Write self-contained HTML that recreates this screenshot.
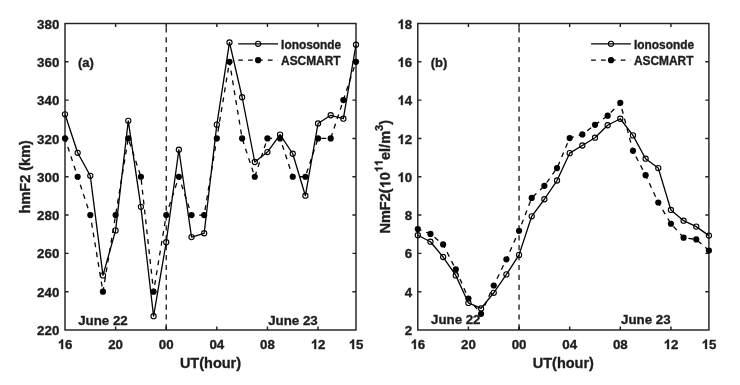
<!DOCTYPE html>
<html><head><meta charset="utf-8"><style>
html,body{margin:0;padding:0;background:#fff;}
body{width:740px;height:385px;overflow:hidden;}
svg{display:block;will-change:transform;}
text{font-family:"Liberation Sans",sans-serif;font-weight:bold;fill:#1e1e1e;stroke:#1e1e1e;stroke-width:0.35px;font-kerning:none;}
.h{fill:none;stroke:none;}
.g{fill:#1e1e1e;stroke:#1e1e1e;stroke-width:0.35px;vector-effect:non-scaling-stroke;}
</style></head><body>
<svg width="740" height="385" viewBox="0 0 740 385">
<rect width="740" height="385" fill="#fff"/>
<rect x="65" y="23.5" width="291" height="306.5" fill="none" stroke="#222" stroke-width="1.45"/>
<path d="M115.61 330v-3.6M115.61 23.5v3.6M166.22 330v-3.6M166.22 23.5v3.6M216.83 330v-3.6M216.83 23.5v3.6M267.43 330v-3.6M267.43 23.5v3.6M318.04 330v-3.6M318.04 23.5v3.6M65 291.69h3.6M356 291.69h-3.6M65 253.38h3.6M356 253.38h-3.6M65 215.06h3.6M356 215.06h-3.6M65 176.75h3.6M356 176.75h-3.6M65 138.44h3.6M356 138.44h-3.6M65 100.12h3.6M356 100.12h-3.6M65 61.81h3.6M356 61.81h-3.6" stroke="#222" stroke-width="1.45" fill="none"/>
<line x1="166.22" y1="23.5" x2="166.22" y2="330" stroke="#000" stroke-width="1.2" stroke-dasharray="5.2 4.7" stroke-dashoffset="6.1"/>
<polyline points="65,138.44 77.65,176.75 90.3,215.06 102.96,291.69 115.61,215.06 128.26,138.44 140.91,176.75 153.57,291.69 166.22,215.06 178.87,176.75 191.52,215.06 204.17,215.06 216.83,138.44 229.48,61.81 242.13,138.44 254.78,176.75 267.43,138.44 280.09,138.44 292.74,176.75 305.39,176.75 318.04,138.44 330.7,138.44 343.35,100.12 356,61.81" fill="none" stroke="#000" stroke-width="1.3" stroke-dasharray="4.9 5.05" stroke-dashoffset="1.05" stroke-linejoin="round"/>
<polyline points="65,114.3 77.65,152.8 90.3,175.79 102.96,275.4 115.61,230.39 128.26,120.81 140.91,206.83 153.57,316.21 166.22,242.26 178.87,149.74 191.52,237.09 204.17,233.26 216.83,124.65 229.48,42.46 242.13,97.25 254.78,162 267.43,152.04 280.09,134.61 292.74,153.76 305.39,195.71 318.04,123.5 330.7,115.26 343.35,118.71 356,44.76" fill="none" stroke="#000" stroke-width="1.3" stroke-linejoin="round"/>
<circle cx="65" cy="138.44" r="3.1" fill="#000"/>
<circle cx="77.65" cy="176.75" r="3.1" fill="#000"/>
<circle cx="90.3" cy="215.06" r="3.1" fill="#000"/>
<circle cx="102.96" cy="291.69" r="3.1" fill="#000"/>
<circle cx="115.61" cy="215.06" r="3.1" fill="#000"/>
<circle cx="128.26" cy="138.44" r="3.1" fill="#000"/>
<circle cx="140.91" cy="176.75" r="3.1" fill="#000"/>
<circle cx="153.57" cy="291.69" r="3.1" fill="#000"/>
<circle cx="166.22" cy="215.06" r="3.1" fill="#000"/>
<circle cx="178.87" cy="176.75" r="3.1" fill="#000"/>
<circle cx="191.52" cy="215.06" r="3.1" fill="#000"/>
<circle cx="204.17" cy="215.06" r="3.1" fill="#000"/>
<circle cx="216.83" cy="138.44" r="3.1" fill="#000"/>
<circle cx="229.48" cy="61.81" r="3.1" fill="#000"/>
<circle cx="242.13" cy="138.44" r="3.1" fill="#000"/>
<circle cx="254.78" cy="176.75" r="3.1" fill="#000"/>
<circle cx="267.43" cy="138.44" r="3.1" fill="#000"/>
<circle cx="280.09" cy="138.44" r="3.1" fill="#000"/>
<circle cx="292.74" cy="176.75" r="3.1" fill="#000"/>
<circle cx="305.39" cy="176.75" r="3.1" fill="#000"/>
<circle cx="318.04" cy="138.44" r="3.1" fill="#000"/>
<circle cx="330.7" cy="138.44" r="3.1" fill="#000"/>
<circle cx="343.35" cy="100.12" r="3.1" fill="#000"/>
<circle cx="356" cy="61.81" r="3.1" fill="#000"/>
<circle cx="65" cy="114.3" r="2.6" fill="none" stroke="#000" stroke-width="1.1"/>
<circle cx="77.65" cy="152.8" r="2.6" fill="none" stroke="#000" stroke-width="1.1"/>
<circle cx="90.3" cy="175.79" r="2.6" fill="none" stroke="#000" stroke-width="1.1"/>
<circle cx="102.96" cy="275.4" r="2.6" fill="none" stroke="#000" stroke-width="1.1"/>
<circle cx="115.61" cy="230.39" r="2.6" fill="none" stroke="#000" stroke-width="1.1"/>
<circle cx="128.26" cy="120.81" r="2.6" fill="none" stroke="#000" stroke-width="1.1"/>
<circle cx="140.91" cy="206.83" r="2.6" fill="none" stroke="#000" stroke-width="1.1"/>
<circle cx="153.57" cy="316.21" r="2.6" fill="none" stroke="#000" stroke-width="1.1"/>
<circle cx="166.22" cy="242.26" r="2.6" fill="none" stroke="#000" stroke-width="1.1"/>
<circle cx="178.87" cy="149.74" r="2.6" fill="none" stroke="#000" stroke-width="1.1"/>
<circle cx="191.52" cy="237.09" r="2.6" fill="none" stroke="#000" stroke-width="1.1"/>
<circle cx="204.17" cy="233.26" r="2.6" fill="none" stroke="#000" stroke-width="1.1"/>
<circle cx="216.83" cy="124.65" r="2.6" fill="none" stroke="#000" stroke-width="1.1"/>
<circle cx="229.48" cy="42.46" r="2.6" fill="none" stroke="#000" stroke-width="1.1"/>
<circle cx="242.13" cy="97.25" r="2.6" fill="none" stroke="#000" stroke-width="1.1"/>
<circle cx="254.78" cy="162" r="2.6" fill="none" stroke="#000" stroke-width="1.1"/>
<circle cx="267.43" cy="152.04" r="2.6" fill="none" stroke="#000" stroke-width="1.1"/>
<circle cx="280.09" cy="134.61" r="2.6" fill="none" stroke="#000" stroke-width="1.1"/>
<circle cx="292.74" cy="153.76" r="2.6" fill="none" stroke="#000" stroke-width="1.1"/>
<circle cx="305.39" cy="195.71" r="2.6" fill="none" stroke="#000" stroke-width="1.1"/>
<circle cx="318.04" cy="123.5" r="2.6" fill="none" stroke="#000" stroke-width="1.1"/>
<circle cx="330.7" cy="115.26" r="2.6" fill="none" stroke="#000" stroke-width="1.1"/>
<circle cx="343.35" cy="118.71" r="2.6" fill="none" stroke="#000" stroke-width="1.1"/>
<circle cx="356" cy="44.76" r="2.6" fill="none" stroke="#000" stroke-width="1.1"/>
<text x="65" y="348.9" text-anchor="middle" font-size="13.3"><tspan class="h">1</tspan>6</text><path class="g" transform="translate(57.6,349) scale(0.0133,-0.0133)" d="M410.6 0L273.9 0L273.9 515C235 478 180 447 97.2 411L97.2 535C140 549 185 572 222 603C258 634 280 672 292 716L410.6 716Z"/>
<text x="115.61" y="348.9" text-anchor="middle" font-size="13.3">20</text>
<text x="166.22" y="348.9" text-anchor="middle" font-size="13.3">00</text>
<text x="216.83" y="348.9" text-anchor="middle" font-size="13.3">04</text>
<text x="267.43" y="348.9" text-anchor="middle" font-size="13.3">08</text>
<text x="318.04" y="348.9" text-anchor="middle" font-size="13.3"><tspan class="h">1</tspan>2</text><path class="g" transform="translate(310.65,349) scale(0.0133,-0.0133)" d="M410.6 0L273.9 0L273.9 515C235 478 180 447 97.2 411L97.2 535C140 549 185 572 222 603C258 634 280 672 292 716L410.6 716Z"/>
<text x="356" y="348.9" text-anchor="middle" font-size="13.3"><tspan class="h">1</tspan>5</text><path class="g" transform="translate(348.6,349) scale(0.0133,-0.0133)" d="M410.6 0L273.9 0L273.9 515C235 478 180 447 97.2 411L97.2 535C140 549 185 572 222 603C258 634 280 672 292 716L410.6 716Z"/>
<text x="59.3" y="335.1" text-anchor="end" font-size="13.3">220</text>
<text x="59.3" y="296.79" text-anchor="end" font-size="13.3">240</text>
<text x="59.3" y="258.48" text-anchor="end" font-size="13.3">260</text>
<text x="59.3" y="220.16" text-anchor="end" font-size="13.3">280</text>
<text x="59.3" y="181.85" text-anchor="end" font-size="13.3">300</text>
<text x="59.3" y="143.54" text-anchor="end" font-size="13.3">320</text>
<text x="59.3" y="105.22" text-anchor="end" font-size="13.3">340</text>
<text x="59.3" y="66.91" text-anchor="end" font-size="13.3">360</text>
<text x="59.3" y="28.6" text-anchor="end" font-size="13.3">380</text>
<text x="210.5" y="368" text-anchor="middle" font-size="14.5">UT(hour)</text>
<text id="yla" transform="translate(29.9,176.75) rotate(-90)" text-anchor="middle" font-size="14.5">hmF2 (km)</text>
<text x="77.9" y="67" font-size="13">(a)</text>
<text x="78.2" y="325.3" font-size="13.3">June 22</text>
<text x="268.23" y="325.3" font-size="13.3">June 23</text>
<line x1="238.2" y1="43.8" x2="278" y2="43.8" stroke="#000" stroke-width="1.3"/>
<circle cx="258.1" cy="43.8" r="2.6" fill="none" stroke="#000" stroke-width="1.1"/>
<line x1="238.2" y1="60.2" x2="278" y2="60.2" stroke="#000" stroke-width="1.3" stroke-dasharray="4.7 5.2"/>
<circle cx="258.1" cy="60.2" r="3.1" fill="#000"/>
<text x="281.1" y="49.0" font-size="11.9">Ionosonde</text>
<text x="281.1" y="65" font-size="11.9">ASCMART</text>
<rect x="417.8" y="23.5" width="291.1" height="306.5" fill="none" stroke="#222" stroke-width="1.45"/>
<path d="M468.43 330v-3.6M468.43 23.5v3.6M519.05 330v-3.6M519.05 23.5v3.6M569.68 330v-3.6M569.68 23.5v3.6M620.3 330v-3.6M620.3 23.5v3.6M670.93 330v-3.6M670.93 23.5v3.6M417.8 291.69h3.6M708.9 291.69h-3.6M417.8 253.38h3.6M708.9 253.38h-3.6M417.8 215.06h3.6M708.9 215.06h-3.6M417.8 176.75h3.6M708.9 176.75h-3.6M417.8 138.44h3.6M708.9 138.44h-3.6M417.8 100.12h3.6M708.9 100.12h-3.6M417.8 61.81h3.6M708.9 61.81h-3.6" stroke="#222" stroke-width="1.45" fill="none"/>
<line x1="519.05" y1="23.5" x2="519.05" y2="330" stroke="#000" stroke-width="1.2" stroke-dasharray="5.2 4.7" stroke-dashoffset="6.1"/>
<polyline points="417.8,229.09 430.46,233.88 443.11,244.39 455.77,269.45 468.43,298.52 481.08,313.82 493.74,285.51 506.4,259.31 519.05,230.81 531.71,197.92 544.37,185.87 557.02,168.09 569.68,138.06 582.33,134.43 594.99,124.86 607.65,115.68 620.3,102.87 632.96,150.87 645.62,175.16 658.27,202.51 670.93,223.74 683.59,237.7 696.24,239.42 708.9,250.51" fill="none" stroke="#000" stroke-width="1.3" stroke-dasharray="4.9 5.05" stroke-dashoffset="1.05" stroke-linejoin="round"/>
<polyline points="417.8,235.21 430.46,241.72 443.11,257.02 455.77,275.38 468.43,302.92 481.08,308.46 493.74,292.78 506.4,274.42 519.05,254.91 531.71,216.28 544.37,199.26 557.02,180.52 569.68,153.17 582.33,145.52 594.99,137.68 607.65,125.25 620.3,118.74 632.96,135.38 645.62,158.71 658.27,168.09 670.93,209.97 683.59,220.68 696.24,226.61 708.9,235.6" fill="none" stroke="#000" stroke-width="1.3" stroke-linejoin="round"/>
<circle cx="417.8" cy="229.09" r="3.1" fill="#000"/>
<circle cx="430.46" cy="233.88" r="3.1" fill="#000"/>
<circle cx="443.11" cy="244.39" r="3.1" fill="#000"/>
<circle cx="455.77" cy="269.45" r="3.1" fill="#000"/>
<circle cx="468.43" cy="298.52" r="3.1" fill="#000"/>
<circle cx="481.08" cy="313.82" r="3.1" fill="#000"/>
<circle cx="493.74" cy="285.51" r="3.1" fill="#000"/>
<circle cx="506.4" cy="259.31" r="3.1" fill="#000"/>
<circle cx="519.05" cy="230.81" r="3.1" fill="#000"/>
<circle cx="531.71" cy="197.92" r="3.1" fill="#000"/>
<circle cx="544.37" cy="185.87" r="3.1" fill="#000"/>
<circle cx="557.02" cy="168.09" r="3.1" fill="#000"/>
<circle cx="569.68" cy="138.06" r="3.1" fill="#000"/>
<circle cx="582.33" cy="134.43" r="3.1" fill="#000"/>
<circle cx="594.99" cy="124.86" r="3.1" fill="#000"/>
<circle cx="607.65" cy="115.68" r="3.1" fill="#000"/>
<circle cx="620.3" cy="102.87" r="3.1" fill="#000"/>
<circle cx="632.96" cy="150.87" r="3.1" fill="#000"/>
<circle cx="645.62" cy="175.16" r="3.1" fill="#000"/>
<circle cx="658.27" cy="202.51" r="3.1" fill="#000"/>
<circle cx="670.93" cy="223.74" r="3.1" fill="#000"/>
<circle cx="683.59" cy="237.7" r="3.1" fill="#000"/>
<circle cx="696.24" cy="239.42" r="3.1" fill="#000"/>
<circle cx="708.9" cy="250.51" r="3.1" fill="#000"/>
<circle cx="417.8" cy="235.21" r="2.6" fill="none" stroke="#000" stroke-width="1.1"/>
<circle cx="430.46" cy="241.72" r="2.6" fill="none" stroke="#000" stroke-width="1.1"/>
<circle cx="443.11" cy="257.02" r="2.6" fill="none" stroke="#000" stroke-width="1.1"/>
<circle cx="455.77" cy="275.38" r="2.6" fill="none" stroke="#000" stroke-width="1.1"/>
<circle cx="468.43" cy="302.92" r="2.6" fill="none" stroke="#000" stroke-width="1.1"/>
<circle cx="481.08" cy="308.46" r="2.6" fill="none" stroke="#000" stroke-width="1.1"/>
<circle cx="493.74" cy="292.78" r="2.6" fill="none" stroke="#000" stroke-width="1.1"/>
<circle cx="506.4" cy="274.42" r="2.6" fill="none" stroke="#000" stroke-width="1.1"/>
<circle cx="519.05" cy="254.91" r="2.6" fill="none" stroke="#000" stroke-width="1.1"/>
<circle cx="531.71" cy="216.28" r="2.6" fill="none" stroke="#000" stroke-width="1.1"/>
<circle cx="544.37" cy="199.26" r="2.6" fill="none" stroke="#000" stroke-width="1.1"/>
<circle cx="557.02" cy="180.52" r="2.6" fill="none" stroke="#000" stroke-width="1.1"/>
<circle cx="569.68" cy="153.17" r="2.6" fill="none" stroke="#000" stroke-width="1.1"/>
<circle cx="582.33" cy="145.52" r="2.6" fill="none" stroke="#000" stroke-width="1.1"/>
<circle cx="594.99" cy="137.68" r="2.6" fill="none" stroke="#000" stroke-width="1.1"/>
<circle cx="607.65" cy="125.25" r="2.6" fill="none" stroke="#000" stroke-width="1.1"/>
<circle cx="620.3" cy="118.74" r="2.6" fill="none" stroke="#000" stroke-width="1.1"/>
<circle cx="632.96" cy="135.38" r="2.6" fill="none" stroke="#000" stroke-width="1.1"/>
<circle cx="645.62" cy="158.71" r="2.6" fill="none" stroke="#000" stroke-width="1.1"/>
<circle cx="658.27" cy="168.09" r="2.6" fill="none" stroke="#000" stroke-width="1.1"/>
<circle cx="670.93" cy="209.97" r="2.6" fill="none" stroke="#000" stroke-width="1.1"/>
<circle cx="683.59" cy="220.68" r="2.6" fill="none" stroke="#000" stroke-width="1.1"/>
<circle cx="696.24" cy="226.61" r="2.6" fill="none" stroke="#000" stroke-width="1.1"/>
<circle cx="708.9" cy="235.6" r="2.6" fill="none" stroke="#000" stroke-width="1.1"/>
<text x="417.8" y="348.9" text-anchor="middle" font-size="13.3"><tspan class="h">1</tspan>6</text><path class="g" transform="translate(410.4,349) scale(0.0133,-0.0133)" d="M410.6 0L273.9 0L273.9 515C235 478 180 447 97.2 411L97.2 535C140 549 185 572 222 603C258 634 280 672 292 716L410.6 716Z"/>
<text x="468.43" y="348.9" text-anchor="middle" font-size="13.3">20</text>
<text x="519.05" y="348.9" text-anchor="middle" font-size="13.3">00</text>
<text x="569.68" y="348.9" text-anchor="middle" font-size="13.3">04</text>
<text x="620.3" y="348.9" text-anchor="middle" font-size="13.3">08</text>
<text x="670.93" y="348.9" text-anchor="middle" font-size="13.3"><tspan class="h">1</tspan>2</text><path class="g" transform="translate(663.53,349) scale(0.0133,-0.0133)" d="M410.6 0L273.9 0L273.9 515C235 478 180 447 97.2 411L97.2 535C140 549 185 572 222 603C258 634 280 672 292 716L410.6 716Z"/>
<text x="708.9" y="348.9" text-anchor="middle" font-size="13.3"><tspan class="h">1</tspan>5</text><path class="g" transform="translate(701.5,349) scale(0.0133,-0.0133)" d="M410.6 0L273.9 0L273.9 515C235 478 180 447 97.2 411L97.2 535C140 549 185 572 222 603C258 634 280 672 292 716L410.6 716Z"/>
<text x="412.1" y="335.1" text-anchor="end" font-size="13.3">2</text>
<text x="412.1" y="296.79" text-anchor="end" font-size="13.3">4</text>
<text x="412.1" y="258.48" text-anchor="end" font-size="13.3">6</text>
<text x="412.1" y="220.16" text-anchor="end" font-size="13.3">8</text>
<text x="412.1" y="181.85" text-anchor="end" font-size="13.3"><tspan class="h">1</tspan>0</text><path class="g" transform="translate(397.31,182) scale(0.0133,-0.0133)" d="M410.6 0L273.9 0L273.9 515C235 478 180 447 97.2 411L97.2 535C140 549 185 572 222 603C258 634 280 672 292 716L410.6 716Z"/>
<text x="412.1" y="143.54" text-anchor="end" font-size="13.3"><tspan class="h">1</tspan>2</text><path class="g" transform="translate(397.31,144) scale(0.0133,-0.0133)" d="M410.6 0L273.9 0L273.9 515C235 478 180 447 97.2 411L97.2 535C140 549 185 572 222 603C258 634 280 672 292 716L410.6 716Z"/>
<text x="412.1" y="105.22" text-anchor="end" font-size="13.3"><tspan class="h">1</tspan>4</text><path class="g" transform="translate(397.31,105) scale(0.0133,-0.0133)" d="M410.6 0L273.9 0L273.9 515C235 478 180 447 97.2 411L97.2 535C140 549 185 572 222 603C258 634 280 672 292 716L410.6 716Z"/>
<text x="412.1" y="66.91" text-anchor="end" font-size="13.3"><tspan class="h">1</tspan>6</text><path class="g" transform="translate(397.31,67) scale(0.0133,-0.0133)" d="M410.6 0L273.9 0L273.9 515C235 478 180 447 97.2 411L97.2 535C140 549 185 572 222 603C258 634 280 672 292 716L410.6 716Z"/>
<text x="412.1" y="28.6" text-anchor="end" font-size="13.3"><tspan class="h">1</tspan>8</text><path class="g" transform="translate(397.31,29) scale(0.0133,-0.0133)" d="M410.6 0L273.9 0L273.9 515C235 478 180 447 97.2 411L97.2 535C140 549 185 572 222 603C258 634 280 672 292 716L410.6 716Z"/>
<text x="563.35" y="368" text-anchor="middle" font-size="14.5">UT(hour)</text>
<text id="ylb" transform="translate(390.4,176.75) rotate(-90)" text-anchor="middle" font-size="14.5">NmF2(<tspan class="h">1</tspan>0<tspan font-size="11" dy="-7.8"><tspan class="h">1</tspan><tspan class="h">1</tspan></tspan><tspan dy="7.8">el/m</tspan><tspan font-size="11" dy="-7.8">3</tspan><tspan dy="7.8">)</tspan></text>
<g transform="translate(390.4,176.75) rotate(-90)"><path class="g" transform="translate(-11.633,0.000) scale(0.0145,-0.0145)" d="M410.6 0L273.9 0L273.9 515C235 478 180 447 97.2 411L97.2 535C140 549 185 572 222 603C258 634 280 672 292 716L410.6 716Z"/><path class="g" transform="translate(4.523,-7.800) scale(0.0110,-0.0110)" d="M410.6 0L273.9 0L273.9 515C235 478 180 447 97.2 411L97.2 535C140 549 185 572 222 603C258 634 280 672 292 716L410.6 716Z"/><path class="g" transform="translate(10.648,-7.800) scale(0.0110,-0.0110)" d="M410.6 0L273.9 0L273.9 515C235 478 180 447 97.2 411L97.2 535C140 549 185 572 222 603C258 634 280 672 292 716L410.6 716Z"/></g>
<text x="430.7" y="67" font-size="13">(b)</text>
<text x="431" y="323.7" font-size="13.3">June 22</text>
<text x="621.1" y="323.7" font-size="13.3">June 23</text>
<line x1="591.1" y1="43.8" x2="630.9" y2="43.8" stroke="#000" stroke-width="1.3"/>
<circle cx="611" cy="43.8" r="2.6" fill="none" stroke="#000" stroke-width="1.1"/>
<line x1="591.1" y1="60.2" x2="630.9" y2="60.2" stroke="#000" stroke-width="1.3" stroke-dasharray="4.7 5.2"/>
<circle cx="611" cy="60.2" r="3.1" fill="#000"/>
<text x="634" y="49.0" font-size="11.9">Ionosonde</text>
<text x="634" y="65" font-size="11.9">ASCMART</text>
</svg>
</body></html>
